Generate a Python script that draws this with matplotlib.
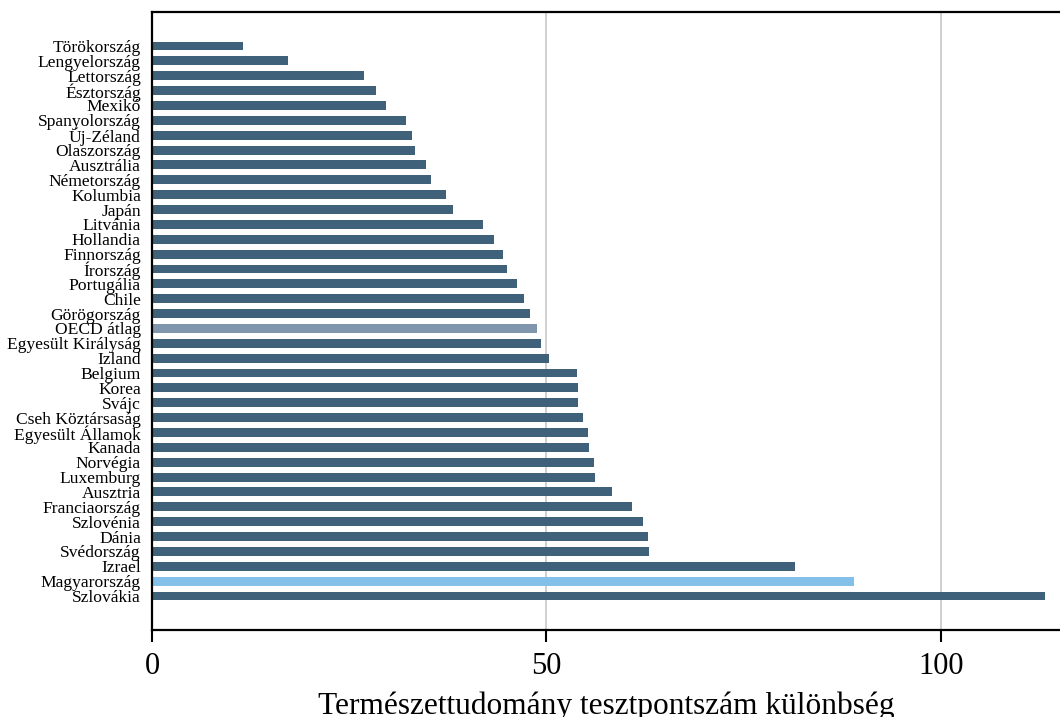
import matplotlib
matplotlib.use("Agg")
from matplotlib import pyplot as plt

# országok (felülről lefelé) és a különbségek
countries = ["Törökország", "Lengyelország", "Lettország", "Észtország", "Mexikó",
             "Spanyolország", "Új-Zéland", "Olaszország", "Ausztrália", "Németország",
             "Kolumbia", "Japán", "Litvánia", "Hollandia", "Finnország", "Írország",
             "Portugália", "Chile", "Görögország", "OECD átlag", "Egyesült Királyság",
             "Izland", "Belgium", "Korea", "Svájc", "Cseh Köztársaság",
             "Egyesült Államok", "Kanada", "Norvégia", "Luxemburg", "Ausztria",
             "Franciaország", "Szlovénia", "Dánia", "Svédország", "Izrael",
             "Magyarország", "Szlovákia"]
values = [11.5, 17.2, 26.9, 28.4, 29.7, 32.2, 33.0, 33.3, 34.7, 35.4,
          37.3, 38.1, 42.0, 43.3, 44.5, 45.0, 46.3, 47.1, 47.9, 48.8,
          49.3, 50.3, 53.9, 54.0, 54.0, 54.6, 55.3, 55.4, 56.0, 56.1,
          58.3, 60.8, 62.2, 62.9, 63.0, 81.5, 89.0, 113.2]
xticks = [0, 50, 100]

plt.rcParams['font.family'] = ['Liberation Serif', 'DejaVu Serif']

colors = []
for c in countries:
    if c == "OECD átlag":
        colors.append("#7f96ad")
    elif c == "Magyarország":
        colors.append("#82c0ea")
    else:
        colors.append("#3f6179")

fig = plt.figure(figsize=(10.6, 7.17), dpi=100)
ax = fig.add_axes([152 / 1060, 87 / 717, 1 - 152 / 1060, (630 - 12) / 717])

pos = list(range(len(countries)))
ax.barh(pos, values, height=0.6, color=colors, zorder=2)

ax.set_ylim(len(countries) - 1 + 2.29, -2.29)
ax.set_xlim(0, 115.1)
ax.set_yticks(pos)
ax.set_yticklabels(countries, fontsize=12.6)
ax.tick_params(axis='y', length=0, pad=8)
ax.set_xticks(xticks)
ax.tick_params(axis='x', length=8.5, width=1.5, labelsize=22, pad=7)
ax.xaxis.grid(True, color="#cccccc", linewidth=1.3, zorder=0)
ax.set_axisbelow(True)
ax.set_xlabel("Természettudomány tesztpontszám különbség", fontsize=22.6, labelpad=8)

for s in ["left", "bottom", "top"]:
    ax.spines[s].set_linewidth(1.6)
ax.spines["right"].set_visible(False)

fig.savefig("out.png", dpi=100)
